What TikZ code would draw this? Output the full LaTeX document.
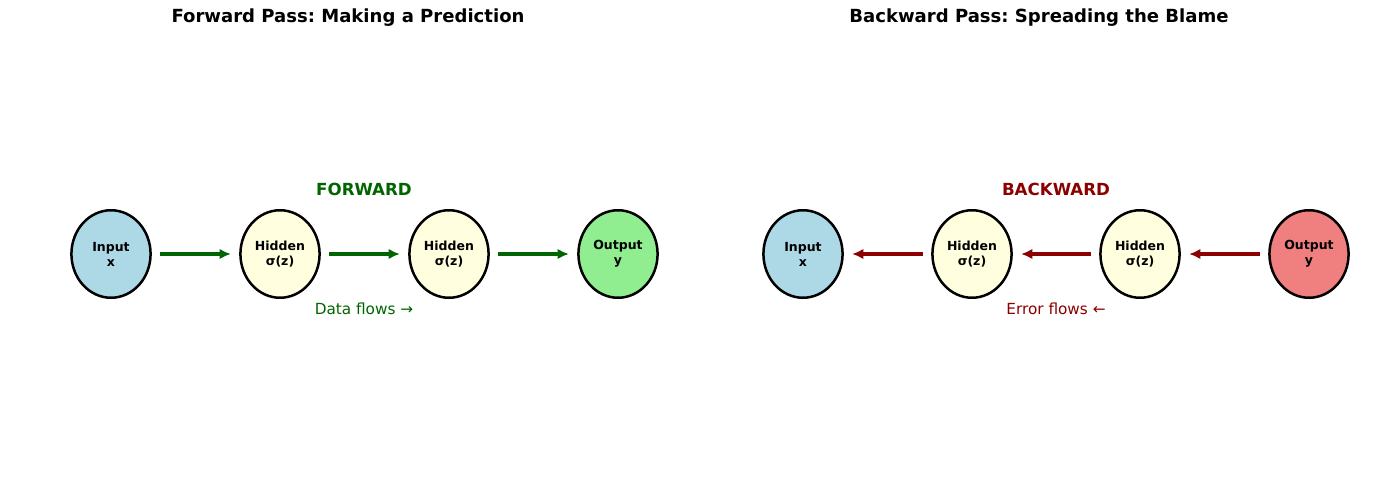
\documentclass[tikz,border=0pt]{standalone}
\usepackage{fontspec}
\setmainfont{DejaVu Sans}
\frenchspacing
\usetikzlibrary{shapes.geometric,arrows.meta}
\definecolor{lblue}{HTML}{ADD8E6}
\definecolor{lyellow}{HTML}{FFFFE0}
\definecolor{lgreen}{HTML}{90EE90}
\definecolor{lcoral}{HTML}{F08080}
\definecolor{dgreen}{HTML}{006400}
\definecolor{dred}{HTML}{8B0000}
\tikzset{
  neuron/.style={ellipse, draw=black, line width=1.8pt, minimum width=57pt, minimum height=63pt, inner sep=0pt, align=center, font=\bfseries\fontsize{9}{10.8}\selectfont},
  fwd/.style={draw=dgreen, line width=2.2pt, -{Latex[length=8pt,width=7.5pt]}},
  bwd/.style={draw=dred, line width=2.2pt, -{Latex[length=8pt,width=7.5pt]}},
  ttl/.style={font=\bfseries\fontsize{13}{15}\selectfont},
  dirlab/.style={font=\bfseries\fontsize{12}{14}\selectfont},
  flowlab/.style={font=\fontsize{11}{13}\selectfont}
}
\begin{document}
\begin{tikzpicture}[x=0.72pt,y=-0.72pt]
\useasboundingbox (0,0) rectangle (1386,487);
% titles
\node[ttl] (t1) at (348,18) {Forward Pass: Making a Prediction};
\node[ttl] (t2) at (1039,18) {Backward Pass: Spreading the Blame};
% forward
\node[neuron, fill=lblue] (fi) at (111,254) {Input\\x};
\node[neuron, fill=lyellow] (fh1) at (280,254) {Hidden\\σ(z)};
\node[neuron, fill=lyellow] (fh2) at (449,254) {Hidden\\σ(z)};
\node[neuron, fill=lgreen] (fo) at (618,254) {Output\\y};
\draw[fwd] ([xshift=6pt]fi.east) -- ([xshift=-6pt]fh1.west);
\draw[fwd] ([xshift=6pt]fh1.east) -- ([xshift=-6pt]fh2.west);
\draw[fwd] ([xshift=6pt]fh2.east) -- ([xshift=-6pt]fo.west);
\node[dirlab, text=dgreen] (fl) at (364,189) {FORWARD};
\node[flowlab, text=dgreen] (fd) at (364,309) {Data flows →};
% backward
\node[neuron, fill=lblue] (bi) at (803,254) {Input\\x};
\node[neuron, fill=lyellow] (bh1) at (972,254) {Hidden\\σ(z)};
\node[neuron, fill=lyellow] (bh2) at (1140,254) {Hidden\\σ(z)};
\node[neuron, fill=lcoral] (bo) at (1309,254) {Output\\y};
\draw[bwd] ([xshift=-6pt]bh1.west) -- ([xshift=6pt]bi.east);
\draw[bwd] ([xshift=-6pt]bh2.west) -- ([xshift=6pt]bh1.east);
\draw[bwd] ([xshift=-6pt]bo.west) -- ([xshift=6pt]bh2.east);
\node[dirlab, text=dred] (bl) at (1056,189) {BACKWARD};
\node[flowlab, text=dred] (bd) at (1056,309) {Error flows ←};
\end{tikzpicture}
\end{document}
